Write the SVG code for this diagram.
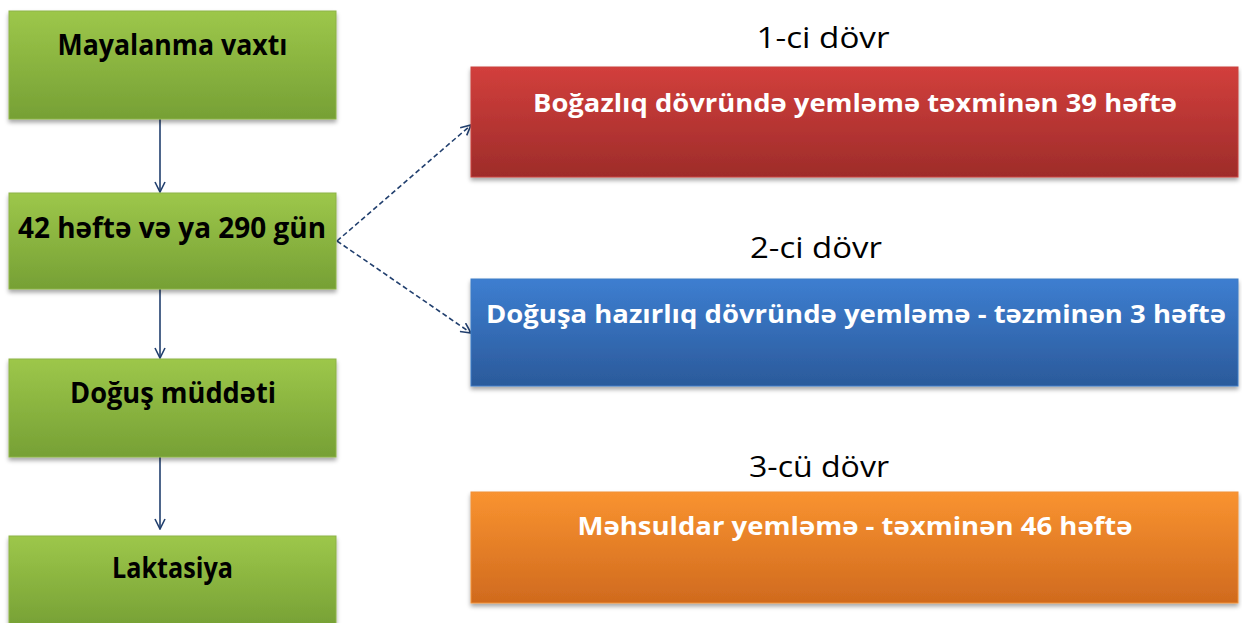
<svg xmlns="http://www.w3.org/2000/svg" width="1242" height="623" viewBox="0 0 1242 623">
<style>
.g{fill:url(#gGreen);stroke:#8db347;stroke-width:1}
.t{font-family:"Open Sans","Liberation Sans",sans-serif;font-weight:bold;text-anchor:middle}
.tl{font-size:28px}
.tr{font-size:25px}
.tb{fill:#000}
.tw{fill:#fff}
.lab{font-family:"Open Sans","Liberation Sans",Arial,sans-serif;font-size:29px;fill:#000;text-anchor:middle}
.conn{stroke:#213f6e;stroke-width:1.6;fill:none}
.dash{stroke-dasharray:5,3}
</style>
<defs>
<linearGradient id="gGreen" x1="0" y1="0" x2="0" y2="1"><stop offset="0" stop-color="#9dc74a"/><stop offset="1" stop-color="#76a035"/></linearGradient>
<linearGradient id="gRed" x1="0" y1="0" x2="0" y2="1"><stop offset="0" stop-color="#d23f3c"/><stop offset="1" stop-color="#9e2c2a"/></linearGradient>
<linearGradient id="gBlue" x1="0" y1="0" x2="0" y2="1"><stop offset="0" stop-color="#3d7ed0"/><stop offset="1" stop-color="#2b5a9b"/></linearGradient>
<linearGradient id="gOrange" x1="0" y1="0" x2="0" y2="1"><stop offset="0" stop-color="#f99330"/><stop offset="1" stop-color="#d06a1e"/></linearGradient>
<filter id="sh" x="-5%" y="-10%" width="110%" height="130%"><feDropShadow dx="0" dy="3" stdDeviation="2" flood-color="#000" flood-opacity="0.35"/></filter>
<marker id="arr" viewBox="0 0 12 12" refX="11" refY="6" markerWidth="12" markerHeight="12" markerUnits="userSpaceOnUse" orient="auto"><path d="M1,1 L11,6 L1,11" fill="none" stroke="#213f6e" stroke-width="1.6"/></marker>
</defs>
<g id="connectors">
<line class="conn" x1="160" y1="119" x2="160" y2="192" marker-end="url(#arr)"/>
<line class="conn" x1="160" y1="289" x2="160" y2="358" marker-end="url(#arr)"/>
<line class="conn" x1="160" y1="457" x2="160" y2="529" marker-end="url(#arr)"/>
<line class="conn dash" x1="337" y1="241" x2="471" y2="125" marker-end="url(#arr)"/>
<line class="conn dash" x1="337" y1="241" x2="471" y2="333" marker-end="url(#arr)"/>
</g>
<g id="node-mayalanma">
<rect class="g" x="9" y="11" width="327" height="108" filter="url(#sh)"/>
<text class="t tl tb" x="172.5" y="55" textLength="230" lengthAdjust="spacingAndGlyphs">Mayalanma vaxtı</text>
</g>
<g id="node-42hefte">
<rect class="g" x="9" y="193" width="327" height="96" filter="url(#sh)"/>
<text class="t tl tb" x="172" y="238" textLength="308" lengthAdjust="spacingAndGlyphs">42 həftə və ya 290 gün</text>
</g>
<g id="node-dogus">
<rect class="g" x="9" y="359" width="327" height="98" filter="url(#sh)"/>
<text class="t tl tb" x="173" y="403" textLength="206" lengthAdjust="spacingAndGlyphs">Doğuş müddəti</text>
</g>
<g id="node-laktasiya">
<rect class="g" x="9" y="536" width="327" height="92" filter="url(#sh)"/>
<text class="t tl tb" x="172.5" y="578" textLength="121" lengthAdjust="spacingAndGlyphs">Laktasiya</text>
</g>
<text class="lab" x="823" y="48" textLength="133" lengthAdjust="spacingAndGlyphs">1-ci dövr</text>
<text class="lab" x="816" y="258" textLength="132" lengthAdjust="spacingAndGlyphs">2-ci dövr</text>
<text class="lab" x="819" y="477" textLength="140" lengthAdjust="spacingAndGlyphs">3-cü dövr</text>
<g id="node-dovr1">
<rect x="471" y="67" width="767" height="110" fill="url(#gRed)" stroke="#c9433f" stroke-width="1" filter="url(#sh)"/>
<text class="t tr tw" x="855" y="112" textLength="644" lengthAdjust="spacingAndGlyphs">Boğazlıq dövründə yemləmə təxminən 39 həftə</text>
</g>
<g id="node-dovr2">
<rect x="471" y="279" width="767" height="107" fill="url(#gBlue)" stroke="#3f7cc5" stroke-width="1" filter="url(#sh)"/>
<text class="t tr tw" x="856" y="323" textLength="740" lengthAdjust="spacingAndGlyphs">Doğuşa hazırlıq dövründə yemləmə - təzminən 3 həftə</text>
</g>
<g id="node-dovr3">
<rect x="471" y="492" width="767" height="111" fill="url(#gOrange)" stroke="#f0913a" stroke-width="1" filter="url(#sh)"/>
<text class="t tr tw" x="855" y="535" textLength="555" lengthAdjust="spacingAndGlyphs">Məhsuldar yemləmə - təxminən 46 həftə</text>
</g>
</svg>
